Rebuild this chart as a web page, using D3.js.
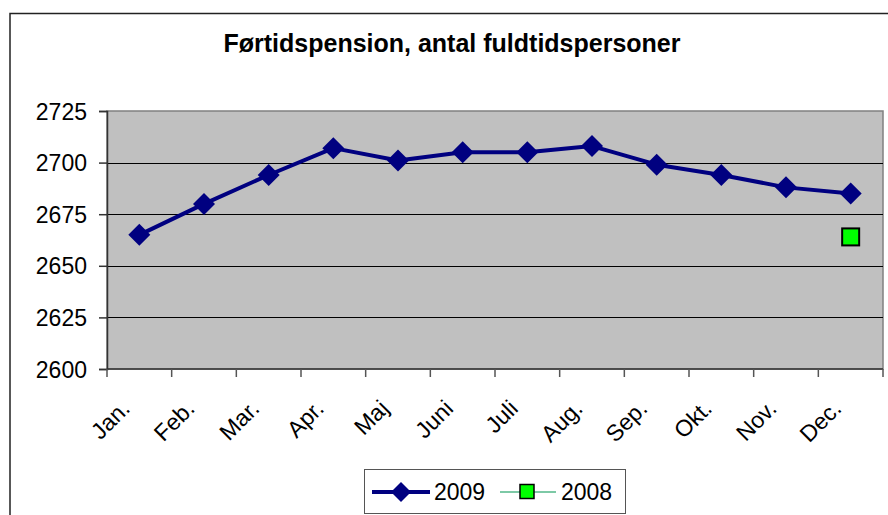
<!DOCTYPE html>
<html>
<head>
<meta charset="utf-8">
<script src="https://cdn.jsdelivr.net/npm/d3@7"></script>
<style>
  body { margin: 0; background: #fff; }
  svg { display: block; font-family: "Liberation Sans", Arial, sans-serif; }
</style>
</head>
<body>
<div id="wrap"></div>
<script>
// months along the x axis
const months = ["Jan.", "Feb.", "Mar.", "Apr.", "Maj", "Juni", "Juli", "Aug.", "Sep.", "Okt.", "Nov.", "Dec."];
// 2009 values
const values2009 = [2665, 2680, 2694, 2707, 2701, 2705, 2705, 2708, 2699, 2694, 2688, 2685];
// 2008 only has a December point
const values2008 = [null, null, null, null, null, null, null, null, null, null, null, 2664];
const yTicks = [2600, 2625, 2650, 2675, 2700, 2725];

const W = 888, H = 515;
const plot = { left: 107, top: 111, right: 883, bottom: 369 };

const svg = d3.select("#wrap").append("svg").attr("width", W).attr("height", H);

// outer chart frame (runs off the right and bottom edges)
svg.append("path")
  .attr("d", "M10,515 L10,13.5 L888,13.5")
  .attr("fill", "none").attr("stroke", "#222").attr("stroke-width", 1.5);

svg.append("text")
  .attr("x", 452).attr("y", 52)
  .attr("text-anchor", "middle")
  .style("font-weight", "bold").style("font-size", "25px")
  .text("Førtidspension, antal fuldtidspersoner");

const x = d3.scaleBand().domain(months).range([plot.left, plot.right]);
const y = d3.scaleLinear().domain([2600, 2725]).range([plot.bottom, plot.top]);

// plot background
svg.append("rect")
  .attr("x", plot.left).attr("y", plot.top)
  .attr("width", plot.right - plot.left).attr("height", plot.bottom - plot.top)
  .attr("fill", "#c0c0c0").attr("stroke", "#808080").attr("stroke-width", 1.5);

// gridlines
svg.append("g").selectAll("line")
  .data(yTicks.filter(d => d > 2600 && d < 2725))
  .enter().append("line")
  .attr("x1", plot.left).attr("x2", plot.right)
  .attr("y1", d => Math.round(y(d)) + 0.5).attr("y2", d => Math.round(y(d)) + 0.5)
  .attr("stroke", "#000").attr("stroke-width", 1);

// y axis
const yAxis = svg.append("g")
  .attr("transform", "translate(" + plot.left + ",0)")
  .call(d3.axisLeft(y).tickValues(yTicks).tickFormat(d3.format("d")).tickSize(8).tickPadding(12));
yAxis.select(".domain").attr("stroke", "#333").attr("stroke-width", 1.5);
yAxis.selectAll(".tick line").attr("stroke", "#333").attr("stroke-width", 1.5);
yAxis.selectAll("text").style("font-size", "23px").attr("fill", "#000").attr("dy", "0.35em");

// x axis: ticks at category boundaries
const xAxis = svg.append("g").attr("transform", "translate(0," + plot.bottom + ")");
xAxis.append("line")
  .attr("x1", plot.left).attr("x2", plot.right)
  .attr("stroke", "#333").attr("stroke-width", 1.5);
xAxis.selectAll(".bt")
  .data(months.concat(["end"]))
  .enter().append("line")
  .attr("class", "bt")
  .attr("x1", (d, i) => i < months.length ? x(d) : plot.right)
  .attr("x2", (d, i) => i < months.length ? x(d) : plot.right)
  .attr("y1", 0).attr("y2", 8)
  .attr("stroke", "#555").attr("stroke-width", 1.5);
xAxis.selectAll(".lbl")
  .data(months)
  .enter().append("text")
  .attr("class", "lbl")
  .attr("text-anchor", "end")
  .attr("transform", d => "translate(" + (x(d) + x.bandwidth() / 2 - 8) + ",41) rotate(-45)")
  .style("font-size", "23px")
  .text(d => d);

const cx = d => x(d) + x.bandwidth() / 2;

// 2009 line
const line = d3.line()
  .defined(d => d.v != null)
  .x(d => cx(d.m)).y(d => y(d.v));
const d2009 = months.map((m, i) => ({ m: m, v: values2009[i] }));
svg.append("path")
  .datum(d2009)
  .attr("d", line)
  .attr("fill", "none").attr("stroke", "#000080").attr("stroke-width", 4)
  .attr("stroke-linejoin", "round");

const diamond = s => "M0," + (-s) + "L" + s + ",0L0," + s + "L" + (-s) + ",0Z";
svg.append("g").selectAll("path")
  .data(d2009)
  .enter().append("path")
  .attr("transform", d => "translate(" + cx(d.m) + "," + y(d.v) + ")")
  .attr("d", diamond(11))
  .attr("fill", "#000080");

// 2008 point
const d2008 = months.map((m, i) => ({ m: m, v: values2008[i] })).filter(d => d.v != null);
svg.append("g").selectAll("rect")
  .data(d2008)
  .enter().append("rect")
  .attr("x", d => cx(d.m) - 8.5).attr("y", d => y(d.v) - 8.5)
  .attr("width", 17).attr("height", 17)
  .attr("fill", "#00ff00").attr("stroke", "#000").attr("stroke-width", 2);

// legend
const lg = svg.append("g");
lg.append("rect")
  .attr("x", 364.5).attr("y", 469.5).attr("width", 261).attr("height", 44)
  .attr("fill", "#fff").attr("stroke", "#555").attr("stroke-width", 1);
lg.append("line").attr("x1", 372).attr("x2", 430).attr("y1", 492).attr("y2", 492)
  .attr("stroke", "#000080").attr("stroke-width", 4);
lg.append("path").attr("transform", "translate(401,492)").attr("d", diamond(10)).attr("fill", "#000080");
lg.append("text").attr("x", 434).attr("y", 500).style("font-size", "23px").text("2009");
lg.append("line").attr("x1", 500).attr("x2", 556).attr("y1", 492).attr("y2", 492)
  .attr("stroke", "#52b788").attr("stroke-width", 1.5);
lg.append("rect").attr("x", 520).attr("y", 484.5).attr("width", 14).attr("height", 14)
  .attr("fill", "#00ff00").attr("stroke", "#000").attr("stroke-width", 1.5);
lg.append("text").attr("x", 561).attr("y", 500).style("font-size", "23px").text("2008");
</script>
</body>
</html>
